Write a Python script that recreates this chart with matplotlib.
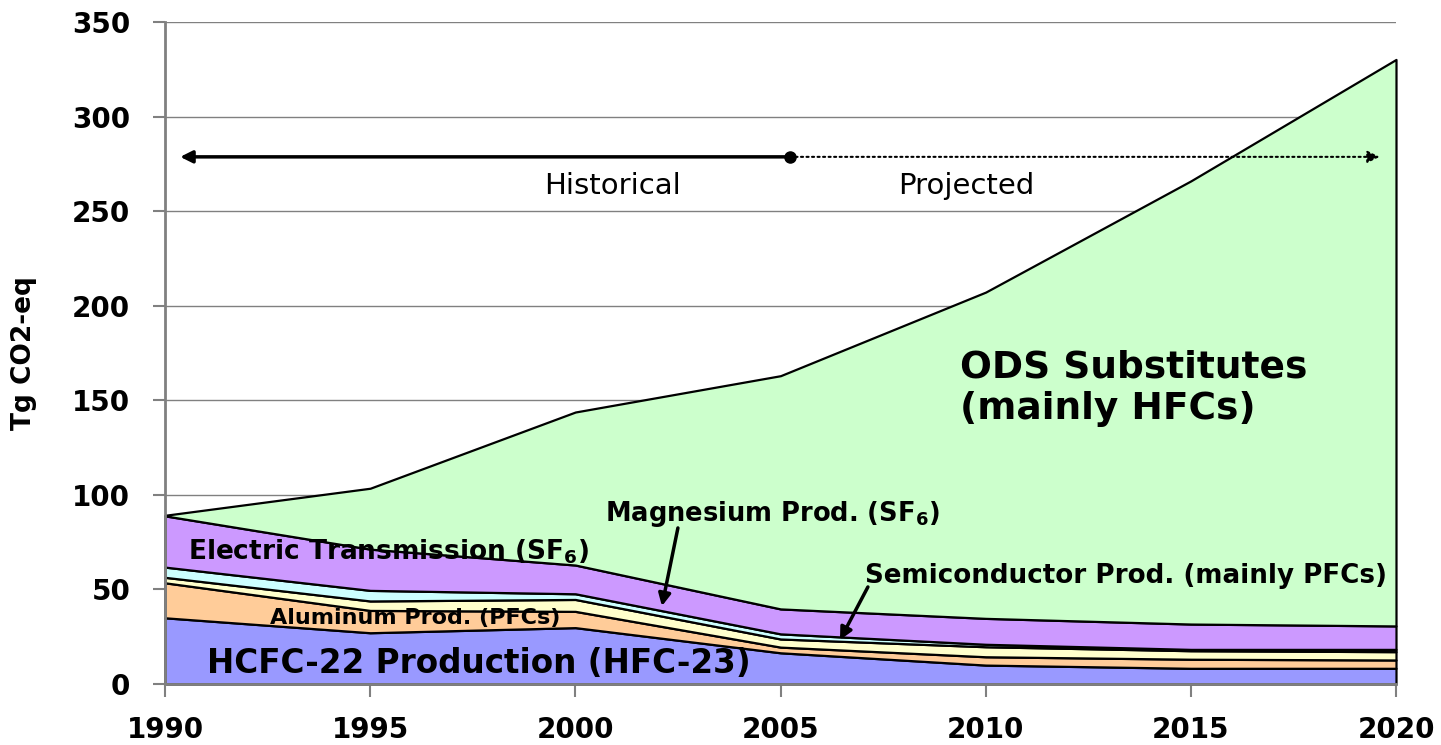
import matplotlib
matplotlib.use("Agg")
import matplotlib.pyplot as plt

# ---- data (Tg CO2-eq) ----
years = [1990, 1995, 2000, 2005, 2010, 2015, 2020]
hcfc22 = [35.0, 27.1, 29.8, 16.5, 10.0, 8.3, 8.3]
aluminum = [18.5, 11.8, 8.6, 3.0, 4.4, 4.8, 4.4]
semiconductor = [2.9, 5.0, 6.3, 4.3, 5.3, 4.5, 4.4]
magnesium = [5.4, 5.6, 3.0, 2.7, 1.3, 0.7, 1.2]
electric = [27.1, 21.8, 15.2, 13.2, 13.7, 13.4, 12.4]
ods = [0.3, 32.2, 80.9, 123.3, 172.5, 234.3, 299.5]

yticks = [0, 50, 100, 150, 200, 250, 300, 350]
xticks = [1990, 1995, 2000, 2005, 2010, 2015, 2020]

colors = ["#9999FF", "#FFCC99", "#FFFFCC", "#CCFFFF", "#CC99FF", "#CCFFCC"]

plt.rcParams['font.family'] = ['DejaVu Sans']

fig = plt.figure(figsize=(14.41, 7.45), dpi=100)
ax = fig.add_axes([165/1441, 61/745, (1396-165)/1441, (684-22)/745])

polys = ax.stackplot(years, hcfc22, aluminum, semiconductor, magnesium,
                     electric, ods, colors=colors, edgecolor='black',
                     linewidth=1.6, zorder=2)
for p in polys:
    p.set_clip_on(False)

ax.set_xlim(1990, 2020)
ax.set_ylim(0, 350)
ax.set_yticks(yticks)
ax.set_xticks(xticks)
ax.set_yticklabels([str(v) for v in yticks])
ax.set_xticklabels([str(v) for v in xticks])
ax.yaxis.grid(True, color='#808080', linewidth=1.0, zorder=0)
ax.set_axisbelow(True)

for s in ['top', 'right']:
    ax.spines[s].set_visible(False)
for s in ['left', 'bottom']:
    ax.spines[s].set_color('#808080')
    ax.spines[s].set_linewidth(2)
    ax.spines[s].set_zorder(3)

ax.tick_params(axis='both', direction='out', length=9, width=1.5,
               color='#808080', labelsize=20)
ax.tick_params(axis='x', pad=14)
ax.tick_params(axis='y', pad=16)
for lab in ax.get_xticklabels() + ax.get_yticklabels():
    lab.set_fontweight('bold')

ax.set_ylabel('Tg CO2-eq', fontsize=19, fontweight='bold')
ax.yaxis.set_label_coords(-0.104, 0.5)

# ---- historical / projected arrows ----
ax.annotate('', xy=(1990.37, 278.7), xytext=(2005.23, 278.7),
            arrowprops=dict(arrowstyle='-|>', lw=2.5, color='black',
                            mutation_scale=18, shrinkA=0, shrinkB=0), zorder=5)
ax.annotate('', xy=(2019.6, 278.7), xytext=(2005.23, 278.7),
            arrowprops=dict(arrowstyle='-|>', lw=1.5, color='black', linestyle=':',
                            mutation_scale=18, shrinkA=0, shrinkB=0), zorder=5)
ax.plot([2005.23], [278.7], 'o', color='black', markersize=8, zorder=6)
ax.text(2000.9, 263.4, 'Historical', fontsize=21, ha='center', va='center')
ax.text(2009.52, 263.4, 'Projected', fontsize=21, ha='center', va='center')

# ---- series labels ----
ax.text(2009.38, 156.3, 'ODS Substitutes\n(mainly HFCs)', fontsize=27,
        fontweight='bold', ha='left', va='center', linespacing=1.2, zorder=6)
ax.text(1990.56, 65.6, r'Electric Transmission (SF$_\mathbf{6}$)', fontsize=19,
        fontweight='bold', ha='left', va='baseline', zorder=6)
ax.text(1992.56, 31.7, 'Aluminum Prod. (PFCs)', fontsize=16,
        fontweight='bold', ha='left', va='baseline', zorder=6)
ax.text(1991.02, 5.66, 'HCFC-22 Production (HFC-23)', fontsize=23.5,
        fontweight='bold', ha='left', va='baseline', zorder=6)
ax.text(2000.72, 86.3, r'Magnesium Prod. (SF$_\mathbf{6}$)', fontsize=18.5,
        fontweight='bold', ha='left', va='baseline', zorder=6)
ax.text(2007.06, 53.6, 'Semiconductor Prod. (mainly PFCs)', fontsize=18.8,
        fontweight='bold', ha='left', va='baseline', zorder=6)

ax.annotate('', xy=(2002.11, 41.2), xytext=(2002.50, 82.5),
            arrowprops=dict(arrowstyle='-|>', lw=2.5, color='black',
                            mutation_scale=18, shrinkA=0, shrinkB=0), zorder=6)
ax.annotate('', xy=(2006.45, 23.3), xytext=(2007.13, 51.3),
            arrowprops=dict(arrowstyle='-|>', lw=2.5, color='black',
                            mutation_scale=18, shrinkA=0, shrinkB=0), zorder=6)

fig.savefig('out.png', dpi=100)
